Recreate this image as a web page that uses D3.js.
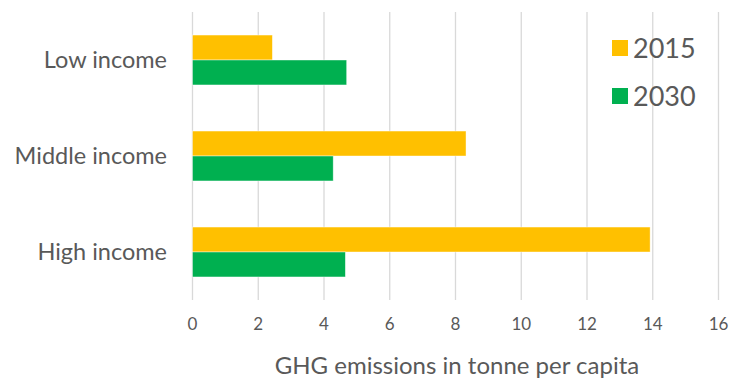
<!DOCTYPE html>
<html>
<head>
<meta charset="utf-8">
<script src="https://cdnjs.cloudflare.com/ajax/libs/d3/7.8.5/d3.min.js"></script>
<style>
  html, body { margin: 0; padding: 0; background: #fff; }
  svg { display: block; font-family: Lato, "Open Sans", sans-serif; }
</style>
</head>
<body>
<svg id="chart" width="730" height="378"></svg>
<script>
// Income groups, top to bottom
const categories = ["Low income", "Middle income", "High income"];
// Series (years) and their per-capita emissions
const seriesNames = ["2015", "2030"];
const values2015 = [2.43, 8.32, 13.92];
const values2030 = [4.69, 4.28, 4.65];
const xTicks = [0, 2, 4, 6, 8, 10, 12, 14, 16];
const axisTitle = "GHG emissions in tonne per capita";

const colors = { "2015": "#FFC000", "2030": "#00B050" };
const seriesValues = { "2015": values2015, "2030": values2030 };

const svg = d3.select("#chart");
const plot = { left: 192, right: 718, top: 12, bottom: 300 };

const x = d3.scaleLinear().domain([0, 16]).range([plot.left, plot.right]);
const y = d3.scaleBand().domain(categories).range([plot.top, plot.bottom]).paddingInner(0.48).paddingOuter(0.24);
const ySub = d3.scaleBand().domain(seriesNames).range([0, y.bandwidth()]).padding(0);

// Vertical gridlines
svg.append("g")
  .selectAll("line")
  .data(xTicks)
  .join("line")
  .attr("x1", d => x(d) + 0.5).attr("x2", d => x(d) + 0.5)
  .attr("y1", plot.top).attr("y2", plot.bottom)
  .attr("stroke", "#d9d9d9").attr("stroke-width", 1.3);

// Bars
const groups = svg.append("g")
  .selectAll("g")
  .data(categories)
  .join("g")
  .attr("transform", d => `translate(0,${y(d)})`);

groups.selectAll("rect")
  .data((c, i) => seriesNames.map(s => ({ s, v: seriesValues[s][i] })))
  .join("rect")
  .attr("x", x(0) + 0.5)
  .attr("y", d => ySub(d.s))
  .attr("width", d => x(d.v) - x(0))
  .attr("height", ySub.bandwidth())
  .attr("fill", d => colors[d.s])
  .attr("stroke", "#ffffff")
  .attr("stroke-opacity", 0.6)
  .attr("stroke-width", 0.7);

// Category labels
svg.append("g")
  .selectAll("text")
  .data(categories)
  .join("text")
  .attr("x", 167)
  .attr("y", d => y(d) + y.bandwidth() / 2)
  .attr("dy", "0.35em")
  .attr("text-anchor", "end")
  .attr("font-size", 23.5)
  .attr("fill", "#595959")
  .text(d => d);

// X axis tick labels
const xAxis = d3.axisBottom(x).tickValues(xTicks).tickSize(0).tickPadding(0);
const axisG = svg.append("g")
  .attr("transform", `translate(0,${plot.bottom + 18})`)
  .call(xAxis);
axisG.select(".domain").remove();
axisG.selectAll("text")
  .attr("font-family", "Lato, 'Open Sans', sans-serif")
  .attr("font-size", 17)
  .attr("fill", "#595959");

// Axis title
svg.append("text")
  .attr("x", 457)
  .attr("y", 374)
  .attr("text-anchor", "middle")
  .attr("font-size", 24)
  .attr("fill", "#595959")
  .text(axisTitle);

// Legend
const legend = svg.append("g")
  .selectAll("g")
  .data(seriesNames)
  .join("g")
  .attr("transform", (d, i) => `translate(612,${40 + i * 48})`);
legend.append("rect")
  .attr("width", 16).attr("height", 16)
  .attr("fill", d => colors[d]);
legend.append("text")
  .attr("x", 21).attr("y", 8)
  .attr("dy", "0.36em")
  .attr("font-size", 27)
  .attr("fill", "#595959")
  .text(d => d);
</script>
</body>
</html>
